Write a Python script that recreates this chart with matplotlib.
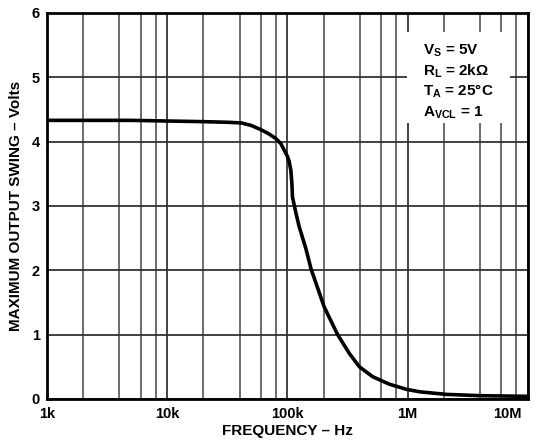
"""Maximum output swing vs frequency."""

import matplotlib

matplotlib.use("Agg")
import matplotlib.pyplot as plt
import matplotlib.transforms as mtransforms
from matplotlib.patches import Rectangle
from matplotlib.ticker import FixedLocator, NullFormatter

plt.rcParams["font.family"] = ["Liberation Sans", "DejaVu Sans"]
plt.rcParams["font.weight"] = "bold"
plt.rcParams["mathtext.fontset"] = "custom"
plt.rcParams["mathtext.rm"] = "Liberation Sans:bold"
plt.rcParams["mathtext.it"] = "Liberation Sans:bold"
plt.rcParams["mathtext.bf"] = "Liberation Sans:bold"
plt.rcParams["mathtext.default"] = "rm"

FREQ_HZ = [1e3, 2e3, 5e3, 10e3, 20e3, 31.9e3, 41.4e3, 50e3, 59.4e3, 70e3, 79.7e3,
           87.9e3, 100e3, 103.3e3, 106.7e3, 108.8e3, 110e3, 117.5e3, 125e3, 142e3,
           157e3, 202e3, 261e3, 326e3, 396e3, 511e3, 700e3, 970e3, 1.26e6, 2.1e6,
           4e6, 10e6]
SWING_V = [4.33, 4.33, 4.33, 4.32, 4.31, 4.30, 4.29, 4.25, 4.19, 4.12, 4.05,
           3.97, 3.77, 3.69, 3.55, 3.35, 3.14, 2.89, 2.68, 2.34,
           2.02, 1.43, 1.00, 0.71, 0.50, 0.345, 0.23, 0.15, 0.11, 0.07,
           0.05, 0.04]

X_TICKS = [1e3, 1e4, 1e5, 1e6, 1e7]
X_TICK_LABELS = ["1k", "10k", "100k", "1M", "10M"]
Y_TICKS = [0, 1, 2, 3, 4, 5, 6]
CONDITIONS = [r"$\mathrm{V_S}$ = 5V", r"$\mathrm{R_L}$ = 2kΩ",
              r"$\mathrm{T_A}$ = 25°C", r"$\mathrm{A_{VCL}}$ = 1"]

fig = plt.figure(figsize=(5.36, 4.46), dpi=100)
ax = fig.add_axes([0.0877, 0.1056, 0.8973, 0.8654])

ax.set_xscale("log")
ax.set_xlim(1e3, 1e7)
ax.set_ylim(0, 6)

minor = [m * 10 ** e for e in range(3, 7) for m in (2, 4, 6, 8)]
ax.xaxis.set_minor_locator(FixedLocator(minor))
ax.xaxis.set_minor_formatter(NullFormatter())
ax.set_xticks(X_TICKS)
ax.set_xticklabels(X_TICK_LABELS)
ax.set_yticks(Y_TICKS)

ax.set_axisbelow(True)
ax.grid(True, which="major", color="#333333", linewidth=1.3)
ax.grid(True, which="minor", axis="x", color="#444444", linewidth=1.1)
ax.tick_params(which="both", length=0, labelsize=10.5)
ax.tick_params(axis="x", pad=6)
ax.tick_params(axis="y", pad=5)
for lbl in ax.get_xticklabels() + ax.get_yticklabels():
    lbl.set_fontweight("bold")
last = ax.get_xticklabels()[-1]
last.set_horizontalalignment("right")
last.set_transform(last.get_transform()
                   + mtransforms.ScaledTranslation(-6 / 100, 0, fig.dpi_scale_trans))

for sp in ax.spines.values():
    sp.set_linewidth(2.0)
    sp.set_color("black")

ax.add_patch(Rectangle((0.748, 0.715), 0.215, 0.236, transform=ax.transAxes,
                       facecolor="white", edgecolor="none", zorder=2))
for i, line in enumerate(CONDITIONS):
    ax.text(0.782, 0.903 - i * 0.0535, line, transform=ax.transAxes,
            fontsize=11, fontweight="bold", va="center", ha="left", zorder=3)

ax.plot(FREQ_HZ, SWING_V, color="black", linewidth=2.6, zorder=4,
        solid_capstyle="butt", clip_on=True)

ax.set_xlabel("FREQUENCY – Hz", fontsize=11, fontweight="bold", labelpad=2)
ax.set_ylabel("MAXIMUM OUTPUT SWING – Volts", fontsize=11, fontweight="bold",
              labelpad=6)

fig.savefig("out.png", dpi=100)
